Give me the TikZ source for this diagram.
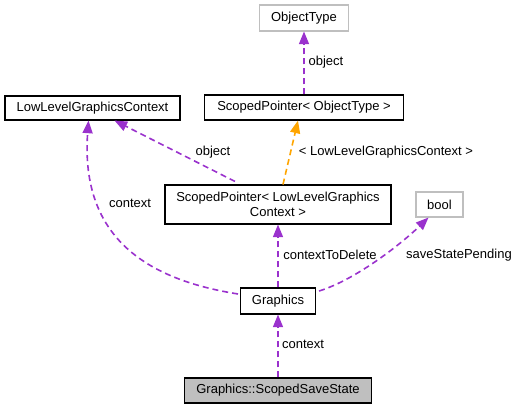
\documentclass[tikz,border=0pt]{standalone}
\usepackage{fontspec}
\setmainfont{Liberation Sans}
\usetikzlibrary{arrows.meta,calc}
\definecolor{edgepurple}{HTML}{9A32CD}
\definecolor{edgeorange}{HTML}{FFA500}
\definecolor{greyline}{HTML}{BFBFBF}
\tikzset{
  box/.style={draw=black, line width=0.8pt, rectangle, inner sep=0pt, align=center, font=\fontsize{9.75pt}{11.5pt}\selectfont},
  greybox/.style={box, draw=greyline},
  edge/.style={draw=edgepurple, line width=1.2pt, dash pattern=on 4.5pt off 3pt, -{Triangle[length=9.5pt,width=7.5pt]}},
  oedge/.style={edge, draw=edgeorange, -{Triangle[length=9.5pt,width=7.5pt,fill=edgeorange]}},
  lbl/.style={inner sep=0pt, font=\fontsize{9.75pt}{11.5pt}\selectfont}
}
\begin{document}
\begin{tikzpicture}[x=0.75pt,y=-0.75pt]
\useasboundingbox (0,0) rectangle (518,409);
\node[greybox, minimum width=89*0.75pt, minimum height=26*0.75pt] (ot) at (304,18) {ObjectType};
\node[box, minimum width=199*0.75pt, minimum height=25*0.75pt] (spo) at (304,107.5) {ScopedPointer< ObjectType >};
\node[box, minimum width=175*0.75pt, minimum height=24*0.75pt] (llgc) at (92.5,108) {LowLevelGraphicsContext};
\node[box, minimum width=226*0.75pt, minimum height=39*0.75pt] (spl) at (278,204.5) {ScopedPointer< LowLevelGraphics\\Context >};
\node[greybox, minimum width=47*0.75pt, minimum height=25*0.75pt] (bool) at (439.5,204.5) {bool};
\node[box, minimum width=75*0.75pt, minimum height=26*0.75pt] (gr) at (278,301) {Graphics};
\node[box, fill=greyline, minimum width=187*0.75pt, minimum height=25*0.75pt] (sss) at (278,390.5) {Graphics::ScopedSaveState};

\draw[edge] (spo.north) -- (ot.south);
\node[lbl] (l1) at (326,62) {object};
\draw[oedge] ($(spl.north)+(5,0)$) -- ($(spo.south)+(-6,0)$);
\node[lbl] (l2) at (386,152) {< LowLevelGraphicsContext >};
\draw[edge] ($(spl.north)+(-43,-3)$) -- ($(llgc.south)+(22,0)$);
\node[lbl] (l3) at (213,152) {object};
\draw[edge] ($(gr.west)+(-2,-7)$) .. controls (150,280) and (80,240) .. ($(llgc.south)+(-4,0)$);
\node[lbl] (l4) at (130,203) {context};
\draw[edge] (gr.north) -- (spl.south);
\node[lbl] (l5) at (330,255) {contextToDelete};
\draw[edge] ($(gr.east)+(3,-10)$) .. controls (355,280) and (400,245) .. ($(bool.south)+(-11,0)$);
\node[lbl] (l6) at (459,255) {saveStatePending};
\draw[edge] (sss.north) -- (gr.south);
\node[lbl] (l7) at (303,344) {context};
\end{tikzpicture}
\end{document}
